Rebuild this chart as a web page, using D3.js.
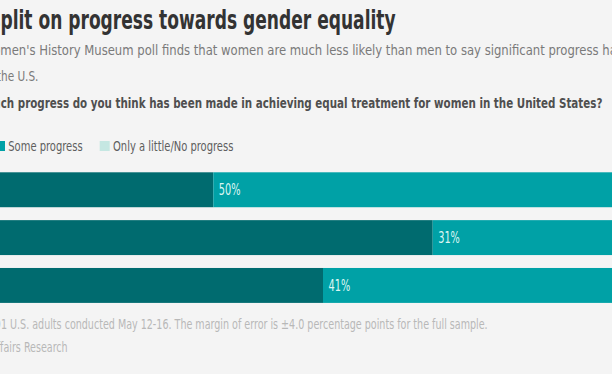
<!DOCTYPE html>
<html>
<head>
<meta charset="utf-8">
<script src="https://cdn.jsdelivr.net/npm/d3@7"></script>
<style>
html, body { margin: 0; padding: 0; background: #f4f4f4; overflow: hidden; }
svg { display: block; }
</style>
</head>
<body>
<svg id="chart" width="612" height="374"></svg>
<script>
var groups = ["Women", "Men", "Total"];
var seriesNames = ["Significant progress", "Some progress", "Only a little/No progress"];
var significantProgress = [30, 50, 40];
var someProgress = [50, 31, 41];
var littleNoProgress = [20, 19, 19];
var seriesColors = ["#006b6f", "#00a1a6", "#c5e7e2"];

var font = "'Liberation Sans Narrow', 'DejaVu Sans Condensed', 'Arial Narrow', sans-serif";
var svg = d3.select("#chart");
svg.append("rect").attr("width", 612).attr("height", 374).attr("fill", "#f4f4f4");

// the picture is a crop of a wider graphic: its left part sits outside the window
var x = d3.scaleLinear().domain([0, 100]).range([-115.8, 981.2]);
var y = d3.scaleBand().domain(groups).range([172.3, 302.9]).paddingInner(0.27);

function textWidth(str, size, weight) {
    var t, w;
    t = svg.append("text").attr("font-family", font).attr("font-size", size)
        .attr("font-weight", weight || "normal").text(str);
    w = t.node().getComputedTextLength();
    t.remove();
    return w;
}

// squeeze a line so its visible part runs from x0 to x1
function fitText(o) {
    var wPre, wVis, sx;
    wPre = o.prefix ? textWidth(o.prefix, o.size, o.weight) : 0;
    wVis = textWidth(o.visible, o.size, o.weight);
    sx = (o.x1 - o.x0) / wVis;
    svg.append("text")
        .attr("font-family", font)
        .attr("font-size", o.size)
        .attr("font-weight", o.weight || "normal")
        .attr("fill", o.color)
        .attr("transform", "translate(" + (o.x0 - wPre * sx) + "," + o.y + ") scale(" + sx + ",1)")
        .text((o.prefix || "") + o.visible + (o.suffix || ""));
    return sx;
}

fitText({prefix: "Americans s", visible: "plit on progress towards gender equality",
    x0: 0.5, x1: 396, y: 29, size: 26, weight: "bold", color: "#333"});
fitText({prefix: "A new AP-NORC poll with the Smithsonian American Wo",
    visible: "men's History Museum poll finds that women are much less likely than men to say significant progress",
    suffix: " has been made", x0: 0.5, x1: 599, y: 55, size: 14.5, color: "#7a7a7a"});
fitText({prefix: "in t", visible: "he U.S.", x0: 1, x1: 38.5, y: 80.5, size: 14.5, color: "#7a7a7a"});
fitText({prefix: "How mu", visible: "ch progress do you think has been made in achieving equal treatment for women in the United States?",
    x0: 0.7, x1: 602.7, y: 108, size: 14, weight: "bold", color: "#4f4f4f"});
fitText({prefix: "The poll of 1,09", visible: "1 U.S. adults conducted May 12-16. The margin of error is \u00b14.0 percentage points for the full sample.",
    x0: 1, x1: 488, y: 328.7, size: 14, color: "#b8b8b8"});
fitText({prefix: "Source: AP-NORC Center for Public Af", visible: "fairs Research",
    x0: 0, x1: 67.7, y: 351.5, size: 14, color: "#b8b8b8"});

// legend
var legendSize = 13.5;
var legendSx = 74.4 / textWidth(seriesNames[1], legendSize);
var legendPos = [0];
var i = 1;
while (i < seriesNames.length) {
    legendPos.push(legendPos[i - 1] + 10 + 3.3 + textWidth(seriesNames[i - 1], legendSize) * legendSx + 17);
    i++;
}
var legendShift = -5 - legendPos[1];
var legend = svg.append("g").attr("class", "legend");
var items = legend.selectAll(".legendItem").data(seriesNames).enter().append("g")
    .attr("class", "legendItem")
    .attr("transform", function (s, i) { return "translate(" + (legendShift + legendPos[i]) + ",141)"; });
items.append("rect").attr("width", 10).attr("height", 10)
    .attr("fill", function (s, i) { return seriesColors[i]; });
items.append("text")
    .attr("font-family", font).attr("font-size", legendSize).attr("fill", "#5e5e5e")
    .attr("transform", "translate(13.3,9.6) scale(" + legendSx + ",1)")
    .text(function (s) { return s; });

// stacked bars
var table = groups.map(function (g, i) {
    return {group: g, "Significant progress": significantProgress[i],
        "Some progress": someProgress[i], "Only a little/No progress": littleNoProgress[i]};
});
var stacked = d3.stack().keys(seriesNames)(table);

var layers = svg.append("g").selectAll(".series").data(stacked).enter().append("g")
    .attr("class", function (s, i) { return "series series_" + i; })
    .attr("fill", function (s, i) { return seriesColors[i]; });
layers.selectAll("rect").data(function (s) { return s; }).enter().append("rect")
    .attr("x", function (d) { return x(d[0]); })
    .attr("y", function (d) { return y(d.data.group); })
    .attr("width", function (d) { return x(d[1]) - x(d[0]); })
    .attr("height", y.bandwidth());

// value labels are narrow, like the rest of the type
var labelSize = 15;
var labelSx = 21.7 / textWidth("50%", labelSize);
layers.each(function (s, k) {
    d3.select(this).selectAll("text").data(s).enter().append("text")
        .attr("transform", function (d) {
            return "translate(" + (x(d[0]) + 5.5) + "," + (y(d.data.group) + y.bandwidth() / 2 + 5.4) + ") scale(" + labelSx + ",1)";
        })
        .attr("font-family", font).attr("font-size", labelSize)
        .attr("fill", k === 2 ? "#2b5e60" : "#dcf6f3")
        .text(function (d) { return (d[1] - d[0]) + "%"; });
});

// row labels sit left of the bars
svg.append("g").selectAll("text").data(groups).enter().append("text")
    .attr("x", x(0) - 8)
    .attr("y", function (g) { return y(g) + y.bandwidth() / 2 + 5; })
    .attr("text-anchor", "end")
    .attr("font-family", font).attr("font-size", 14).attr("fill", "#4f4f4f")
    .text(function (g) { return g; });
</script>
</body>
</html>
